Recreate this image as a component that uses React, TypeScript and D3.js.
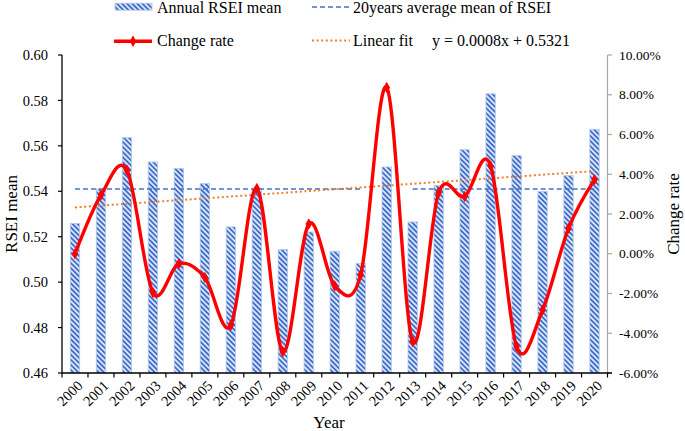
import React from "react";
import * as d3 from "d3";

const years = ["2000","2001","2002","2003","2004","2005","2006","2007","2008","2009","2010","2011","2012","2013","2014","2015","2016","2017","2018","2019","2020"];
const annualMean = [0.5258, 0.541, 0.5636, 0.5529, 0.5501, 0.5434, 0.5243, 0.5413, 0.5144, 0.5221, 0.5136, 0.5082, 0.5507, 0.5265, 0.5426, 0.5583, 0.5829, 0.5557, 0.5399, 0.5469, 0.5673];
const changeRate = [0.0, 2.95, 4.2, -1.95, -0.5, -1.2, -3.6, 3.28, -4.93, 1.5, -1.62, -1.05, 8.37, -4.42, 3.07, 2.88, 4.42, -4.67, -2.83, 1.28, 3.73];
const avgMean: (number | null)[] = [0.541,0.541,0.541,0.541,0.541,0.541,0.541,0.541,0.541,0.541,0.541,0.541,null,0.541,0.541,0.541,0.541,0.541,0.541,0.541,0.541];
const fitSlope = 0.0008;
const fitIntercept = 0.5321;
const leftTicks = [0.46, 0.48, 0.50, 0.52, 0.54, 0.56, 0.58, 0.60];
const rightTicks = [-6, -4, -2, 0, 2, 4, 6, 8, 10];

const W = 685, H = 431;
const L = 62, R = 607.5, T = 55, B = 373;
const FONT = "'Liberation Serif', 'Times New Roman', serif";

export default function App() {
  const x = d3.scaleBand<string>().domain(years).range([L, R]).paddingInner(0).paddingOuter(0);
  const bw = x.bandwidth();
  const cx = (i: number) => (x(years[i]) as number) + bw / 2;
  const yL = d3.scaleLinear().domain([0.46, 0.60]).range([B, T]);
  const yR = d3.scaleLinear().domain([-6, 10]).range([B, T]);

  const barW = bw * 0.36;

  const avgLine = d3.line<number | null>()
    .defined((d) => d !== null)
    .x((_, i) => cx(i))
    .y((d) => yL(d as number))(avgMean) as string;

  const fitLine = d3.line<string>()
    .x((_, i) => cx(i))
    .y((_, i) => yL(fitSlope * (i + 1) + fitIntercept))(years) as string;

  const rateLine = d3.line<number>()
    .x((_, i) => cx(i))
    .y((d) => yR(d))
    .curve(d3.curveCardinal.tension(0))(changeRate) as string;

  const diamond = d3.symbol().type(d3.symbolDiamond).size(38)() as string;

  return (
    <svg width={W} height={H} style={{ position: "absolute", left: 0, top: 0, background: "#fff" }} fontFamily={FONT}>
      <defs>
        <pattern id="hatch" patternUnits="userSpaceOnUse" width="3.6" height="3.6" patternTransform="rotate(-45)">
          <rect width="3.6" height="3.6" fill="#dbe5f7" />
          <rect width="1.8" height="3.6" fill="#3f6fcc" />
        </pattern>
      </defs>

      {/* bars */}
      {annualMean.map((v, i) => (
        <rect key={years[i]} x={cx(i) - barW / 2} y={yL(v)} width={barW} height={B - yL(v)}
          fill="url(#hatch)" stroke="#b4c7e7" strokeWidth={0.8} />
      ))}

      {/* average line */}
      <path d={avgLine} fill="none" stroke="#4472c4" strokeWidth={1.4} strokeDasharray="5,3" />
      {/* linear fit */}
      <path d={fitLine} fill="none" stroke="#ed7d31" strokeWidth={2} strokeDasharray="2,2.6" />

      {/* change rate */}
      <path d={rateLine} fill="none" stroke="#ff0000" strokeWidth={3.4} strokeLinejoin="round" />
      {changeRate.map((v, i) => (
        <path key={"m" + i} d={diamond} transform={`translate(${cx(i)},${yR(v)})`} fill="#ff0000" />
      ))}

      {/* left axis */}
      <line x1={L} x2={L} y1={T} y2={B} stroke="#000" strokeWidth={1.3} />
      {leftTicks.map((t) => (
        <g key={"l" + t}>
          <line x1={L - 4} x2={L} y1={yL(t)} y2={yL(t)} stroke="#000" strokeWidth={1.2} />
          <text x={48} y={yL(t)} dy="0.35em" textAnchor="end" fontSize={14.5} fill="#000">{t.toFixed(2)}</text>
        </g>
      ))}
      {/* right axis */}
      <line x1={R} x2={R} y1={T} y2={B} stroke="#a6a6a6" strokeWidth={1.2} />
      {rightTicks.map((t) => (
        <g key={"r" + t}>
          <line x1={R} x2={R + 4.5} y1={yR(t)} y2={yR(t)} stroke="#a6a6a6" strokeWidth={1.2} />
          <text x={619} y={yR(t)} dy="0.35em" textAnchor="start" fontSize={13.5} fill="#000">{t.toFixed(2) + "%"}</text>
        </g>
      ))}
      {/* x axis */}
      <line x1={L} x2={R + 4.5} y1={B} y2={B} stroke="#000" strokeWidth={1.3} />
      {years.map((yr, i) => (
        <g key={"x" + yr}>
          <line x1={x(yr) as number} x2={x(yr) as number} y1={B} y2={B + 4.5} stroke="#000" strokeWidth={1.2} />
          <text transform={`translate(${cx(i) + 5},${B + 10}) rotate(-45)`} textAnchor="end" dy="0.35em" fontSize={14.5} fill="#000">{yr}</text>
        </g>
      ))}
      <line x1={R} x2={R} y1={B} y2={B + 4.5} stroke="#000" strokeWidth={1.2} />

      {/* axis titles */}
      <text x={329} y={428} textAnchor="middle" fontSize={17} fill="#000">Year</text>
      <text transform={`translate(17,${(T + B) / 2}) rotate(-90)`} textAnchor="middle" fontSize={17} fill="#000">RSEI mean</text>
      <text transform={`translate(679,${(T + B) / 2}) rotate(-90)`} textAnchor="middle" fontSize={17} fill="#000">Change rate</text>

      {/* legend */}
      <rect x={115} y={3.2} width={37} height={7} fill="url(#hatch)" stroke="#b4c7e7" strokeWidth={0.8} />
      <text x={157} y={12.5} fontSize={16} fill="#000">Annual RSEI mean</text>
      <line x1={312} x2={350} y1={7} y2={7} stroke="#4472c4" strokeWidth={1.4} strokeDasharray="5,3" />
      <text x={353} y={12.5} fontSize={16} fill="#000">20years average mean of RSEI</text>

      <line x1={114} x2={152} y1={41.3} y2={41.3} stroke="#ff0000" strokeWidth={3.4} />
      <path d={diamond} transform="translate(133,41.3)" fill="#ff0000" />
      <text x={157} y={45.5} fontSize={16} fill="#000">Change rate</text>
      <line x1={312} x2={350} y1={40.5} y2={40.5} stroke="#ed7d31" strokeWidth={2} strokeDasharray="2,2.6" />
      <text x={353} y={45.5} fontSize={16} fill="#000">Linear fit</text>
      <text x={432} y={45.5} fontSize={16} fill="#000">y = 0.0008x + 0.5321</text>
    </svg>
  );
}
